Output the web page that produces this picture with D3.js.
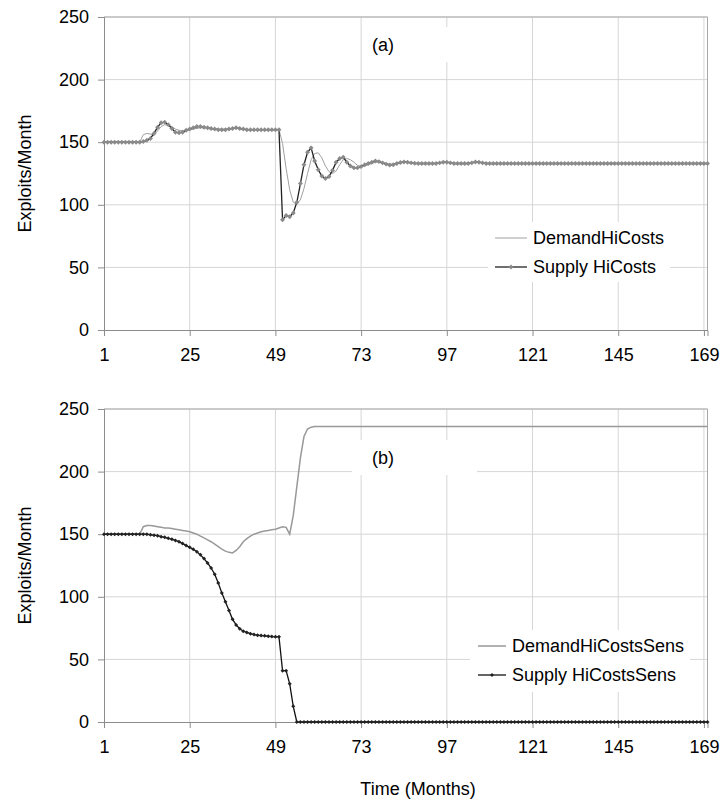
<!DOCTYPE html>
<html>
<head>
<meta charset="utf-8">
<script src="https://cdn.jsdelivr.net/npm/d3@7"></script>
<style>
  html, body { margin: 0; padding: 0; background: #fff; }
  svg { display: block; font-family: "Liberation Sans", Arial, sans-serif; }
</style>
</head>
<body>
<svg id="chart" width="726" height="805"></svg>
<script>
// ---------------- DATA ----------------
const xTickLabels = [1, 25, 49, 73, 97, 121, 145, 169];
const yTickLabels = [0, 50, 100, 150, 200, 250];

// Panel (a)
const demandHiCosts = [
  150,150,150,150,150,150,150,150,150,150,150,
  156,157,156.5,155.5,159,162.5,164,163.5,162.5,160.5,159.5,159,159.5,160,160.5,161,161.5,161.5,161,160.5,160.5,160.5,160.5,160.5,160.5,161,161,161,160.5,
  160,160,160,160,160,160,160,160,160,160,
  149,129,112,102,100.5,104,113,125,136,141,141.5,137.5,131,126.5,125,127,132,136,137,136,134,131.5,130.5,131,132,133,134,134,133.5,133,132.5,132.5,133,133.5,133.8,133.8,133.5,133.2,
  133,133,133,133,133,133,
  133.5,134,134,133.5,
  133,133,133,133,133,
  133.5,134.2,134,133.5,
  133,133,133,133,133,133,133,133,133,133,133,133,133,133,133,133,133,133,133,133,133,133,133,133,133,133,133,133,133,133,133,133,133,133,133,133,133,133,133,133,133,133,133,133,133,133,133,133,133,133,133,133,133,133,133,133,133,133,133,133,133,133,133
];
const supplyHiCosts = [
  150,150,150,150,150,150,150,150,150,150,150,
  150.5,151.5,153,157,162,165.5,166,164,161,158,157.5,158,159.5,160.5,161.5,162.5,162.5,162,161.5,161,160.5,160,160,160,160.5,161,161.5,161,160.5,
  160,160,160,160,160,160,160,160,160,160,
  88,91.5,90.5,93.5,102,117,132,142,145.5,135,128,123,121,122.5,127.5,134,137,138,134,131,129.5,129.5,130.5,132,133,134,135,134.5,133.5,132.5,131.8,132,133,133.8,134.2,134,133.5,133.2,
  133,133,133,133,133,133,
  133.5,134,134,133.5,
  133,133,133,133,133,
  133.5,134.2,134,133.5,
  133,133,133,133,133,133,133,133,133,133,133,133,133,133,133,133,133,133,133,133,133,133,133,133,133,133,133,133,133,133,133,133,133,133,133,133,133,133,133,133,133,133,133,133,133,133,133,133,133,133,133,133,133,133,133,133,133,133,133,133,133,133,133
];

// Panel (b)
const demandHiCostsSens = [
  150,150,150,150,150,150,150,150,150,150,150,
  156,157,157,156.5,156,155.5,155,155,154.5,154,153.5,153,152.5,152,151,150,148.5,147,145.5,144,142,140,138,136.5,135.5,135,137,140,144,146.5,148.5,150,151,152,152.5,153,153.5,154,155,156,155.5,150,165,188,211,228,234,235.5,
  236,236,236,236,236,236,236,236,236,236,236,236,236,236,236,236,236,236,236,236,236,236,236,236,236,236,236,236,236,236,236,236,236,236,236,236,236,236,236,236,236,236,236,236,236,236,236,236,236,236,236,236,236,236,236,236,236,236,236,236,236,236,236,236,236,236,236,236,236,236,236,236,236,236,236,236,236,236,236,236,236,236,236,236,236,236,236,236,236,236,236,236,236,236,236,236,236,236,236,236,236,236,236,236,236,236,236,236,236,236,236
];
const supplyHiCostsSens = [
  150,150,150,150,150,150,150,150,150,150,150,150,150,
  149.5,149.2,148.8,148,147.5,146.7,146,145,144,142.5,141,139.5,138,136,133.5,130.5,127,123,118,111,103,96,89,82,77.5,74.5,72.5,71.5,70.5,69.8,69.3,69,68.8,68.5,68.2,68,68,
  41,41,30.5,12.5,
  0,0,0,0,0,0,0,0,0,0,0,0,0,0,0,0,0,0,0,0,0,0,0,0,0,0,0,0,0,0,0,0,0,0,0,0,0,0,0,0,0,0,0,0,0,0,0,0,0,0,0,0,0,0,0,0,0,0,0,0,0,0,0,0,0,0,0,0,0,0,0,0,0,0,0,0,0,0,0,0,0,0,0,0,0,0,0,0,0,0,0,0,0,0,0,0,0,0,0,0,0,0,0,0,0,0,0,0,0,0,0,0,0,0,0,0
];

const panels = [
  { tag: "(a)", demand: demandHiCosts, supply: supplyHiCosts,
    demandName: "DemandHiCosts", supplyName: "Supply HiCosts" },
  { tag: "(b)", demand: demandHiCostsSens, supply: supplyHiCostsSens,
    demandName: "DemandHiCostsSens", supplyName: "Supply HiCostsSens" }
];

// ---------------- LAYOUT ----------------
const svg = d3.select("#chart");
const FONT = 18;
const left = 104, right = 707.5;
const layouts = [
  { top: 17, bottom: 330, tagBox: [362, 27, 120, 35], tagX: 372, tagY: 45,
    legBox: [488, 222, 182, 60], legX: 495, legLen: 32, legY: [238, 267],
    supMarkerFill: "#8a8a8a", supMarkerSize: 12, supLine: "#222", demColor: "#a0a0a0", demWidth: 1 },
  { top: 409, bottom: 722, tagBox: [352, 440, 125, 35], tagX: 372, tagY: 458,
    legBox: [470, 630, 220, 62], legX: 478, legLen: 28, legY: [646, 675],
    supMarkerFill: "#222", supMarkerSize: 8, supLine: "#111", demColor: "#999", demWidth: 1.5 }
];

const x = d3.scaleLinear().domain([1, 170]).range([left, right]);
const gridColor = "#d6d6d6";
const axisColor = "#8c8c8c";

panels.forEach((p, i) => {
  const L = layouts[i];
  const y = d3.scaleLinear().domain([0, 250]).range([L.bottom, L.top]);
  const g = svg.append("g");
  const months = d3.range(1, p.demand.length + 1);

  // gridlines
  g.append("g").selectAll("line.h").data(yTickLabels.filter(v => v > 0)).join("line")
    .attr("x1", left).attr("x2", right)
    .attr("y1", d => y(d)).attr("y2", d => y(d))
    .attr("stroke", gridColor).attr("stroke-width", 1);
  g.append("g").selectAll("line.v").data(xTickLabels.filter(v => v > 1)).join("line")
    .attr("x1", d => x(d)).attr("x2", d => x(d))
    .attr("y1", L.top).attr("y2", L.bottom)
    .attr("stroke", gridColor).attr("stroke-width", 1);
  // plot border (top/right)
  g.append("path")
    .attr("d", `M${left},${L.top}H${right}V${L.bottom}`)
    .attr("fill", "none").attr("stroke", "#a8a8a8").attr("stroke-width", 1);

  // axes
  const yAxis = d3.axisLeft(y).tickValues(yTickLabels).tickSize(6).tickPadding(9);
  const ya = g.append("g").attr("transform", `translate(${left},0)`).call(yAxis);
  const xAxis = d3.axisBottom(x).tickValues(xTickLabels).tickSize(6).tickPadding(12);
  const xa = g.append("g").attr("transform", `translate(0,${L.bottom})`).call(xAxis);
  [ya, xa].forEach(a => {
    a.select(".domain").attr("stroke", axisColor);
    a.selectAll(".tick line").attr("stroke", axisColor);
    a.selectAll(".tick text").attr("fill", "#000")
      .style("font-size", FONT + "px").style("font-family", '"Liberation Sans", Arial, sans-serif');
  });

  // y title
  g.append("text")
    .attr("transform", `translate(25,${(L.top + L.bottom) / 2 + 0}) rotate(-90)`)
    .attr("text-anchor", "middle").attr("dominant-baseline", "central")
    .style("font-size", FONT + "px").text("Exploits/Month");

  // annotation box
  g.append("rect").attr("x", L.tagBox[0]).attr("y", L.tagBox[1])
    .attr("width", L.tagBox[2]).attr("height", L.tagBox[3]).attr("fill", "#fff");
  g.append("text").attr("x", L.tagX).attr("y", L.tagY).attr("dominant-baseline", "central")
    .style("font-size", FONT + "px").text(p.tag);

  // series
  const lineGen = arr => d3.line().x((d, k) => x(months[k])).y(d => y(d))(arr);
  g.append("path").attr("d", lineGen(p.demand))
    .attr("fill", "none").attr("stroke", L.demColor).attr("stroke-width", L.demWidth);
  g.append("path").attr("d", lineGen(p.supply))
    .attr("fill", "none").attr("stroke", L.supLine).attr("stroke-width", 1.3);
  const sym = d3.symbol().type(d3.symbolSquare).size(L.supMarkerSize);
  g.append("g").selectAll("path").data(p.supply).join("path")
    .attr("d", sym)
    .attr("transform", (d, k) => `translate(${x(months[k])},${y(d)}) rotate(45)`)
    .attr("fill", L.supMarkerFill);

  // legend
  g.append("rect").attr("x", L.legBox[0]).attr("y", L.legBox[1])
    .attr("width", L.legBox[2]).attr("height", L.legBox[3]).attr("fill", "#fff");
  const items = [
    { name: p.demandName, color: L.demColor, w: L.demWidth, marker: false },
    { name: p.supplyName, color: L.supLine, w: 1.3, marker: true }
  ];
  items.forEach((it, k) => {
    const ly = L.legY[k];
    g.append("line").attr("x1", L.legX).attr("x2", L.legX + L.legLen)
      .attr("y1", ly).attr("y2", ly).attr("stroke", it.color).attr("stroke-width", it.w);
    if (it.marker) {
      g.append("path").attr("d", sym)
        .attr("transform", `translate(${L.legX + L.legLen / 2},${ly}) rotate(45)`)
        .attr("fill", L.supMarkerFill);
    }
    g.append("text").attr("x", L.legX + L.legLen + 6).attr("y", ly)
      .attr("dominant-baseline", "central").style("font-size", FONT + "px").text(it.name);
  });
});

// x title
svg.append("text").attr("x", 418).attr("y", 789)
  .attr("text-anchor", "middle").attr("dominant-baseline", "central")
  .style("font-size", FONT + "px").text("Time (Months)");
</script>
</body>
</html>
